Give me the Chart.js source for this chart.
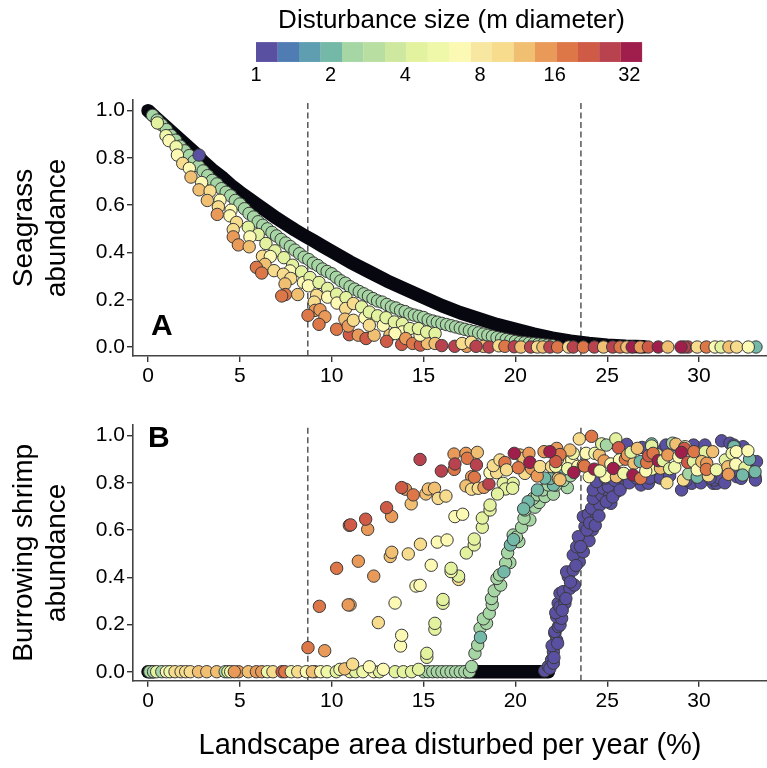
<!DOCTYPE html>
<html>
<head>
<meta charset="utf-8">
<script src="https://cdn.jsdelivr.net/npm/chart.js@4"></script>
<style>
  html, body { margin: 0; padding: 0; background: #fff; }
  #page { position: relative; width: 767px; height: 768px; overflow: hidden; }
  canvas { position: absolute; }
  .letra { position: absolute; font: bold 30px "Liberation Sans", Arial, sans-serif; color: #000; }
</style>
</head>
<body>
<div id="page">
  <canvas id="grafico-escala" width="631" height="90" style="left:136px;top:0"></canvas>
  <canvas id="grafico-a" width="767" height="300" style="left:0;top:90px"></canvas>
  <canvas id="grafico-b" width="767" height="353" style="left:0;top:415px"></canvas>
  <div class="letra" style="left:151px;top:308px">A</div>
  <div class="letra" style="left:148px;top:420px">B</div>
</div>
<script>
// disturbance size classes (m diameter)
const P = 1, T = 2, G = 2.4, YG = 4.4, Y = 5.4, PL = 6.6, YO = 9.9, LO = 12, O = 14.7, DO = 18, R = 22, R2 = 27, C = 32;

const colorbarColors = ['#5a50a1', '#4f7db3', '#5f9db0', '#74b8a8', '#a6d6a4', '#b9dea2', '#cfe89f', '#e3f29f', '#eff7a8',
  '#fbf9b3', '#f8e7a0', '#f6dc8c', '#f0bf72', '#e99a58', '#de7748', '#cf5a46', '#b9424f', '#a01e4c'];
const colorbarMax = 5.17;
const colorbarTicks = [0, 1, 2, 3, 4, 5];
const colorbarLabels = ['1', '2', '4', '8', '16', '32'];

const xTickValues = [0, 5, 10, 15, 20, 25, 30];
const yTickValues = [0, 0.2, 0.4, 0.6, 0.8, 1];
const dashedX = [8.7, 23.57];

// panel A, the black band (smallest disturbances)
const seagrassBlackX = [0, 0.5, 1, 1.5, 2, 2.5, 3, 3.5, 4, 4.5, 5, 5.5, 6, 6.5, 7, 7.5, 8, 8.5, 9, 9.5, 10, 11, 12, 13, 14, 15, 16, 17, 18, 19, 20, 21, 22, 23, 24, 25, 26, 27];
const seagrassBlackY = [1, 0.965, 0.93, 0.895, 0.86, 0.825, 0.785, 0.75, 0.72, 0.685, 0.655, 0.627, 0.6, 0.572, 0.545, 0.52, 0.495, 0.472, 0.45, 0.427, 0.405, 0.36, 0.32, 0.28, 0.245, 0.21, 0.175, 0.145, 0.12, 0.095, 0.075, 0.055, 0.038, 0.025, 0.015, 0.008, 0.003, 0.001];

// panel A, the green curve
const seagrassGreenX = [0.25, 0.5, 0.75, 1, 1.25, 1.5, 1.75, 2, 2.25, 2.5, 2.75, 3, 3.25, 3.5, 3.75, 4, 4.25, 4.5, 4.75, 5, 5.25, 5.5, 5.75, 6, 6.25, 6.5, 6.75, 7, 7.25, 7.5, 7.75, 8, 8.25, 8.5, 8.75, 9, 9.25, 9.5, 9.75, 10, 10.25, 10.5, 10.75, 11, 11.25, 11.5, 11.75, 12, 12.25, 12.5, 12.75, 13, 13.25, 13.5, 13.75, 14, 14.25, 14.5, 14.75, 15, 15.25, 15.5, 15.75, 16, 16.25, 16.5, 16.75, 17, 17.25, 17.5, 17.75, 18, 18.25, 18.5, 18.75, 19, 19.25, 19.5, 19.75, 20, 20.25, 20.5, 20.75, 21, 21.25, 21.5, 21.75, 22];
const seagrassGreenY = [0.98, 0.96, 0.94, 0.92, 0.895, 0.875, 0.85, 0.83, 0.81, 0.785, 0.765, 0.745, 0.725, 0.705, 0.69, 0.67, 0.655, 0.64, 0.62, 0.605, 0.585, 0.565, 0.55, 0.53, 0.515, 0.5, 0.485, 0.47, 0.455, 0.44, 0.425, 0.41, 0.395, 0.38, 0.37, 0.355, 0.345, 0.33, 0.32, 0.31, 0.295, 0.28, 0.27, 0.255, 0.245, 0.235, 0.225, 0.215, 0.205, 0.195, 0.19, 0.18, 0.17, 0.165, 0.155, 0.15, 0.14, 0.135, 0.13, 0.125, 0.115, 0.11, 0.105, 0.1, 0.095, 0.09, 0.085, 0.08, 0.075, 0.07, 0.065, 0.06, 0.055, 0.05, 0.045, 0.04, 0.036, 0.032, 0.028, 0.024, 0.02, 0.018, 0.016, 0.014, 0.012, 0.01, 0.008, 0.006];

// panel A, the scattered dots: [x, y, size]
const seagrassDots = [
  [2.78, 0.812, P], [0.51, 0.948, YG], [0.98, 0.894, Y], [1.14, 0.873, PL], [1.53, 0.847, Y], [1.6, 0.812, PL], [1.89, 0.777, YO],
  [2.25, 0.756, PL], [2.34, 0.719, LO], [2.92, 0.696, PL], [2.78, 0.665, LO], [3.38, 0.66, YO], [3.23, 0.62, LO], [3.92, 0.621, PL],
  [3.83, 0.593, YO], [3.77, 0.561, O], [4.52, 0.579, PL], [4.46, 0.555, PL], [4.82, 0.527, YO], [4.64, 0.497, YO], [4.64, 0.466, O],
  [4.92, 0.432, O], [5.46, 0.507, YG], [6, 0.476, YG], [5.55, 0.466, PL], [5.51, 0.424, LO], [6.42, 0.438, YG], [6.91, 0.407, YG],
  [6.23, 0.384, YO], [6.66, 0.383, PL], [7.4, 0.378, YG], [6.37, 0.35, LO], [5.9, 0.337, DO], [6.19, 0.313, DO], [6.86, 0.323, YO],
  [7.87, 0.346, YG], [7.73, 0.322, PL], [8.36, 0.318, YG], [7.37, 0.308, YO], [7.77, 0.29, YO], [8.46, 0.273, PL], [8.82, 0.294, YG],
  [8.73, 0.259, PL], [9.31, 0.273, YG], [7.46, 0.267, LO], [7.48, 0.222, DO], [7.28, 0.216, DO], [8.15, 0.222, LO], [9.18, 0.219, YO],
  [9.05, 0.19, YO], [9.78, 0.248, YG], [9.78, 0.211, PL], [10.27, 0.224, YG], [10.29, 0.186, PL], [10.78, 0.209, YG], [10.76, 0.163, YO],
  [9.09, 0.155, O], [9.36, 0.158, O], [9.63, 0.128, O], [8.71, 0.134, DO], [9.31, 0.096, DO], [10.27, 0.075, DO], [10.96, 0.052, R],
  [10.72, 0.118, LO], [10.9, 0.089, O], [11.18, 0.184, YO], [11.63, 0.17, YG], [11.18, 0.113, YO], [11.45, 0.05, O], [11.87, 0.036, R],
  [12.31, 0.05, LO], [11.81, 0.124, PL], [12.05, 0.148, YG], [12.05, 0.092, YO], [12.5, 0.132, YG], [12.81, 0.092, PL], [12.96, 0.124, YG],
  [13.41, 0.106, YG], [13.85, 0.099, YG], [13.86, 0.064, PL], [14.26, 0.078, YG], [13.17, 0.05, LO], [13.45, 0.057, PL], [12.99, 0.024, R],
  [13.81, 0.011, R], [14.03, 0.036, O], [14.41, 0.015, DO], [14.83, 0.008, R], [15.21, 0.015, LO], [14.81, 0.05, PL], [14.72, 0.078, YG],
  [15.17, 0.064, YG], [15.63, 0.057, YG], [15.63, 0.015, LO], [15.99, 0.006, R2], [16.7, 0.003, R2], [17.35, 0.003, O], [17.1, 0.015, YO],
  [17.6, 0.02, YO], [18.26, 0.003, LO], [17.86, 0.003, R2], [18.57, 0, R2], [19.1, 0.005, YO], [19.43, 0.003, DO], [19.94, 0.001, R2],
  [20.3, 0, LO], [20.83, 0, R2], [21.2, 0, YO], [21.5, 0, LO], [21.88, 0, R2], [22.3, 0, DO], [22.9, 0, YO], [23.15, 0, R2], [23.7, 0, DO],
  [24.3, 0, R2], [24.8, 0, LO], [25.3, 0, R2], [25.7, 0, DO], [26.07, 0, LO], [26.36, 0, C], [26.8, 0, O], [27.24, 0, R], [27.78, 0, C],
  [28.3, 0, LO], [29.4, 0, R2], [29.2, 0, R2], [29.02, 0, C], [29.9, 0, YO], [30.4, 0, DO], [30.87, 0, PL], [31.2, 0, YG], [31.63, 0, LO],
  [33.1, 0, T], [32.05, 0, YO], [32.68, 0, PL]
];

// panel B, black stretches on the zero line
const shrimpBlackX = [0, 0.3];
const shrimpBlackY = [0, 0];
const shrimpBlack2X = [17.3, 18, 19, 20, 21, 21.8];
const shrimpBlack2Y = [0, 0, 0, 0, 0, 0];

// panel B, purple rise and the purple dots under the plateau
const shrimpPurpleX = [21.6, 21.79, 21.88, 21.97, 22.07, 22.07, 22.15, 22.25, 22.15, 22.34, 22.43, 22.25, 22.52, 22.2, 22.33, 22.43, 22.7, 22.43, 22.6, 22.97, 23.21, 22.88, 22.79, 23.15, 23.48, 23.15, 23.7, 23.34, 23.61, 24.01, 23.43, 23.79, 24.19, 23.7, 23.97, 24.42, 24.15, 24.6, 24.24, 25.2, 24.7, 24.24, 24.79, 25.15, 25.51, 25.06, 25.79, 25.97, 24.42, 24.9, 25.4, 26.06, 25.62, 26.4, 26.84, 27.24, 27.69, 26.9, 28.05, 28.6, 29.05, 29.6, 29.7, 29.9, 30.32, 30.4, 30.77, 30.96, 30.84, 31.23, 31.5, 31.68, 32.05, 32.4, 32.3, 33.05, 33.13, 33.07, 28.2, 27.3, 31.1, 31.9, 22.0, 22.1, 22.3, 22.55, 22.75, 23.0, 23.3, 23.55, 23.9, 24.05, 24.35, 24.55, 24.95, 25.3, 25.7, 26.2, 26.6, 27.9, 28.4, 29.3, 30.1, 30.6, 31.4, 32.8];
const shrimpPurpleY = [0.004, 0.022, 0.015, 0.05, 0.036, 0.085, 0.163, 0.134, 0.17, 0.191, 0.198, 0.233, 0.226, 0.25, 0.29, 0.275, 0.29, 0.332, 0.339, 0.353, 0.367, 0.403, 0.423, 0.431, 0.466, 0.494, 0.508, 0.529, 0.565, 0.555, 0.572, 0.615, 0.601, 0.657, 0.667, 0.664, 0.692, 0.706, 0.734, 0.713, 0.749, 0.77, 0.777, 0.749, 0.763, 0.784, 0.791, 0.805, 0.805, 0.82, 0.81, 0.963, 0.83, 0.82, 0.791, 0.798, 0.826, 0.95, 0.94, 0.96, 0.77, 0.798, 0.96, 0.826, 0.96, 0.826, 0.798, 0.798, 0.812, 0.978, 0.833, 0.968, 0.826, 0.953, 0.819, 0.826, 0.89, 0.812, 0.96, 0.82, 0.82, 0.96, 0.11, 0.06, 0.12, 0.26, 0.31, 0.38, 0.45, 0.53, 0.6, 0.63, 0.62, 0.66, 0.72, 0.74, 0.77, 0.8, 0.82, 0.82, 0.83, 0.81, 0.8, 0.82, 0.8, 0.85];

// panel B, green row on the zero line and green rise
const shrimpGreenX = [15, 15.25, 15.5, 15.75, 16, 16.25, 16.5, 16.75, 17, 17.25, 17.5, 17.62, 17.8, 17.95, 18.08, 18.43, 18.26, 18.58, 18.74, 18.7, 18.85, 19.2, 19, 19.14, 19.7, 19.47, 19.58, 20.19, 19.88, 20.06, 20.34, 20.79, 20.47, 20.52, 21.07, 21.29, 20.97, 21.2, 21.61, 21.5, 22.07, 21.79, 22.83, 22.2, 22.6, 23];
const shrimpGreenY = [0, 0, 0, 0, 0, 0, 0, 0, 0, 0, 0, 0.022, 0.078, 0.113, 0.184, 0.205, 0.224, 0.248, 0.285, 0.31, 0.343, 0.367, 0.395, 0.41, 0.462, 0.46, 0.504, 0.551, 0.579, 0.57, 0.612, 0.643, 0.65, 0.685, 0.697, 0.717, 0.734, 0.749, 0.742, 0.77, 0.752, 0.791, 0.78, 0.79, 0.81, 0.83];
const shrimpTealX = [18.1, 19.38, 19.73, 19.9, 20.7, 20.45, 22.07, 21.9, 21.2, 22.4, 21.6];
const shrimpTealY = [0.146, 0.423, 0.537, 0.56, 0.72, 0.69, 0.791, 0.819, 0.77, 0.84, 0.82];

// panel B, scattered dots: [x, y, size]
const shrimpDots = [
  [0.1, 0, G], [0.3, 0, G], [0.47, 0, YG], [0.75, 0, G], [1, 0, PL], [1.2, 0, Y], [1.47, 0, YO], [1.8, 0, YO], [2.05, 0, YO], [2.3, 0, YO], [2.75, 0, LO],
  [3.2, 0, LO], [3.74, 0, LO], [4.2, 0, G], [4.35, 0, YG], [4.5, 0, Y], [4.93, 0, O], [4.7, 0, O], [5.46, 0, LO], [5.9, 0, O], [6.19, 0, O],
  [6.5, 0, Y], [6.8, 0, YO], [7.3, 0, R], [7.45, 0, DO], [7.8, 0, Y], [8.15, 0, YO], [8.62, 0, PL], [9.09, 0, O], [8.95, 0, LO], [9.4, 0, PL], [9.75, 0, Y], [10.25, 0, YG],
  [10.45, 0.01, Y], [11, 0, Y], [11.3, 0, YG], [11.7, 0, Y], [12.3, 0, PL], [12.6, 0, YG], [13.45, 0, YG], [13.9, 0, YG], [14.35, 0, YG],
  [10.71, 0.012, LO], [11.14, 0.032, YO], [12.05, 0.021, PL], [12.81, 0.01, PL], [14.73, 0.01, YG], [15.18, 0.061, YG], [15.18, 0.078, YG],
  [13.75, 0.109, PL], [13.81, 0.154, PL], [15.62, 0.18, YG], [15.62, 0.205, YG], [16.06, 0.29, YG], [16.06, 0.306, YG], [14.59, 0.363, PL],
  [14.81, 0.366, PL], [16.91, 0.391, YO], [16.91, 0.405, YG], [16.5, 0.424, Y], [16.5, 0.438, YG], [15.42, 0.451, PL], [15.75, 0.549, PL],
  [16.28, 0.558, PL], [17.33, 0.503, YG], [17.76, 0.537, YG], [17.76, 0.562, YG], [18.2, 0.612, YG], [18.2, 0.651, YG], [18.62, 0.685, YG],
  [18.62, 0.706, YG], [16.71, 0.657, PL], [17.13, 0.667, PL], [13.45, 0.291, PL], [12.54, 0.208, YO], [11, 0.283, LO], [9.62, 0.089, O],
  [10.9, 0.283, O], [12.29, 0.405, O], [11.45, 0.468, O], [13.19, 0.488, LO], [13.27, 0.506, LO], [14.17, 0.499, YO], [14.83, 0.54, YO],
  [15.13, 0.753, LO], [15.26, 0.774, LO], [15.6, 0.777, LO], [15.8, 0.734, YO], [16.22, 0.744, YO], [14.33, 0.711, LO], [13.26, 0.658, O],
  [11.96, 0.603, O], [8.71, 0.102, DO], [9.33, 0.277, DO], [10.27, 0.438, DO], [10.96, 0.62, DO], [11.03, 0.622, R], [11.85, 0.646, R],
  [12.99, 0.695, R], [14.02, 0.773, O], [14.44, 0.749, DO], [13.81, 0.78, R], [14.81, 0.899, R2], [15.97, 0.85, R2], [16.66, 0.922, O],
  [17.31, 0.925, O], [17.38, 0.904, DO], [17.93, 0.929, LO], [16.67, 0.857, DO], [16.71, 0.88, R2], [17.88, 0.876, R2], [17.62, 0.826, O],
  [17.77, 0.823, DO], [17.31, 0.787, LO], [17.62, 0.773, YO], [17.98, 0.777, YO], [18.29, 0.781, O], [18.56, 0.795, R2], [18.62, 0.843, PL],
  [18.98, 0.843, YO], [18.8, 0.873, YO], [19.16, 0.897, YO], [19.43, 0.886, DO], [19.52, 0.855, YO], [19.34, 0.798, YG], [19.88, 0.798, YG],
  [19.47, 0.774, YG], [19.85, 0.777, YG], [19.03, 0.753, YG], [20.52, 0.84, YO], [20.25, 0.918, LO], [20.46, 0.904, LO], [19.94, 0.925, C],
  [20.74, 0.925, O], [20.16, 0.864, DO], [20.88, 0.861, O], [20.79, 0.887, C], [21.19, 0.829, O], [21.34, 0.869, YO], [21.56, 0.932, O],
  [21.97, 0.869, YO], [22.34, 0.819, LO], [22.6, 0.89, PL], [22.3, 0.9, PL], [23.07, 0.897, PL], [23.15, 0.925, Y], [22.43, 0.813, LO],
  [22.2, 0.87, Y], [22.25, 0.946, O], [22.97, 0.939, LO], [22.43, 0.92, DO], [22.2, 0.89, R], [21.88, 0.932, C], [22.85, 0.86, Y], [23.4, 0.87, PL], [23.7, 0.875, O], [24.02, 0.826, PL],
  [24.91, 0.826, PL], [23.85, 0.925, PL], [24.33, 0.925, Y], [24.57, 0.918, LO], [24.83, 0.893, O], [23.76, 0.871, DO], [23.18, 0.844, C],
  [24.3, 0.858, C], [23.48, 0.986, YO], [24.15, 0.997, DO], [24.7, 0.965, YG], [24.96, 0.96, G], [25.47, 0.986, YG], [25.62, 0.949, R],
  [25.2, 0.88, PL], [24.6, 0.85, Y], [25.67, 0.897, PL], [25.5, 0.847, O], [25.5, 0.826, LO], [25.33, 0.861, C], [25.99, 0.9, DO], [26.1, 0.918, O], [26.46, 0.883, LO],
  [25.9, 0.84, Y], [26.3, 0.93, YG], [26.64, 0.946, LO], [26.4, 0.833, C], [26.82, 0.819, DO], [26.8, 0.89, T], [27.42, 0.858, Y], [27.42, 0.965, T], [27.42, 0.956, YG],
  [27.1, 0.85, PL], [27.7, 0.92, YG], [27.15, 0.886, DO], [27.26, 0.915, R], [27.5, 0.925, DO], [27.9, 0.862, LO], [27.78, 0.894, C], [28.05, 0.894, YG], [28.3, 0.918, O],
  [28.4, 0.86, YG], [28.25, 0.8, YO], [28.68, 0.866, Y], [28.56, 0.968, G], [28.74, 0.964, LO], [28.9, 0.91, PL], [29.24, 0.953, PL], [29.2, 0.946, R], [29.04, 0.929, C],
  [29.15, 0.812, YO], [29.44, 0.838, G], [29.38, 0.887, R], [29.9, 0.824, T], [29.7, 0.89, YG], [29.9, 0.855, PL], [29.72, 0.932, DO], [30.34, 0.932, YG],
  [30.15, 0.89, LO], [30.42, 0.883, O], [30.51, 0.83, YO], [30.4, 0.857, DO], [30.74, 0.932, LO], [30.94, 0.855, Y], [31.43, 0.897, YG],
  [31.57, 0.868, LO], [31.6, 0.836, O], [31.9, 0.953, T], [31.8, 0.925, Y], [32.03, 0.932, PL], [32, 0.879, PL], [32.5, 0.864, YG],
  [32.37, 0.833, T], [32.75, 0.9, T], [33.05, 0.847, T], [32.66, 0.936, PL]
];

function sizeColor(size) {
  let band = Math.floor(Math.log2(size) / colorbarMax * colorbarColors.length);
  return colorbarColors[Math.min(band, colorbarColors.length - 1)];
}

function toPoints(xs, ys) {
  return xs.map((x, i) => ({ x: x, y: ys[i] }));
}

function dotsDataset(points, colors) {
  return {
    data: points,
    showLine: false,
    pointRadius: 6.2,
    pointBorderWidth: 1,
    pointBorderColor: '#3a3a3a',
    pointBackgroundColor: colors
  };
}

function blackDataset(points) {
  return {
    data: points,
    showLine: true,
    borderColor: '#07070f',
    borderWidth: 13.5,
    borderCapStyle: 'round',
    borderJoinStyle: 'round',
    pointRadius: 0
  };
}

function dashedDatasets() {
  return dashedX.map(x => ({
    data: [{ x: x, y: -0.038 }, { x: x, y: 1.038 }],
    showLine: true,
    borderColor: '#4a4a4a',
    borderWidth: 1.4,
    borderDash: [6, 3.5],
    pointRadius: 0
  }));
}

function criarPainel(id, datasets, yTitle, xTitle, xHeight) {
  new Chart(document.getElementById(id), {
    type: 'scatter',
    data: { datasets: datasets.map((d, i) => Object.assign(d, { order: -i })) },
    options: {
      responsive: false,
      animation: false,
      layout: { autoPadding: false, padding: { top: 10 } },
      plugins: { legend: { display: false }, tooltip: { enabled: false } },
      scales: {
        x: {
          type: 'linear',
          min: -0.817,
          max: 33.7,
          afterBuildTicks: s => { s.ticks = xTickValues.map(v => ({ value: v })); },
          afterFit: s => { s.height = xHeight; s.paddingLeft = 0; s.paddingRight = 0; },
          grid: { drawOnChartArea: false, drawTicks: true, tickLength: 6, color: '#333', lineWidth: 1.4 },
          border: { display: true, color: '#444', width: 1.6 },
          ticks: { color: '#000', font: { family: 'Liberation Sans', size: 21 }, padding: 2, maxRotation: 0, callback: v => String(v) },
          title: xTitle ? {
            display: true, text: xTitle, color: '#000',
            font: { family: 'Liberation Sans', size: 29 }, padding: { top: 0, bottom: 5 }
          } : { display: false }
        },
        y: {
          type: 'linear',
          min: -0.038,
          max: 1.045,
          afterBuildTicks: s => { s.ticks = yTickValues.map(v => ({ value: v })); },
          afterFit: s => { s.width = 133; s.paddingTop = 0; s.paddingBottom = 0; },
          grid: { drawOnChartArea: false, drawTicks: true, tickLength: 6, color: '#333', lineWidth: 1.4 },
          border: { display: true, color: '#444', width: 1.6 },
          ticks: { color: '#000', font: { family: 'Liberation Sans', size: 21 }, padding: 2, callback: v => v.toFixed(1) },
          title: {
            display: true, text: yTitle, color: '#000',
            font: { family: 'Liberation Sans', size: 28 }, padding: { top: 7, bottom: 0 }
          }
        }
      }
    }
  });
}

function criarEscala() {
  new Chart(document.getElementById('grafico-escala'), {
    type: 'bar',
    data: {
      labels: ['size'],
      datasets: colorbarColors.map(c => ({
        data: [colorbarMax / colorbarColors.length],
        backgroundColor: c,
        borderColor: c,
        borderWidth: 0.5,
        barPercentage: 1,
        categoryPercentage: 1
      }))
    },
    options: {
      indexAxis: 'y',
      responsive: false,
      animation: false,
      layout: { autoPadding: false },
      plugins: {
        legend: { display: false },
        tooltip: { enabled: false },
        title: {
          display: true, text: 'Disturbance size (m diameter)', color: '#000',
          font: { family: 'Liberation Sans', size: 26, weight: 'normal' }, padding: { top: 5, bottom: 6 }
        }
      },
      scales: {
        x: {
          type: 'linear',
          stacked: true,
          min: -1.607,
          max: 6.844,
          afterBuildTicks: s => { s.ticks = colorbarTicks.map(v => ({ value: v })); },
          afterFit: s => { s.height = 28; s.paddingLeft = 0; s.paddingRight = 0; },
          grid: { display: false, drawTicks: false },
          border: { display: false },
          ticks: { color: '#000', font: { family: 'Liberation Sans', size: 20 }, padding: 1, maxRotation: 0, callback: v => colorbarLabels[v] }
        },
        y: { stacked: true, display: false }
      }
    }
  });
}

criarEscala();

criarPainel('grafico-a', [
  ...dashedDatasets(),
  blackDataset(toPoints(seagrassBlackX, seagrassBlackY)),
  dotsDataset(toPoints(seagrassGreenX, seagrassGreenY), sizeColor(G)),
  dotsDataset(seagrassDots.map(d => ({ x: d[0], y: d[1] })), seagrassDots.map(d => sizeColor(d[2])))
], ['Seagrass', 'abundance'], null, 34);

criarPainel('grafico-b', [
  ...dashedDatasets(),
  blackDataset(toPoints(shrimpBlackX, shrimpBlackY)),
  blackDataset(toPoints(shrimpBlack2X, shrimpBlack2Y)),
  dotsDataset(toPoints(shrimpPurpleX, shrimpPurpleY), sizeColor(P)),
  dotsDataset(toPoints(shrimpGreenX, shrimpGreenY), sizeColor(G)),
  dotsDataset(toPoints(shrimpTealX, shrimpTealY), sizeColor(T)),
  dotsDataset(shrimpDots.map(d => ({ x: d[0], y: d[1] })), shrimpDots.map(d => sizeColor(d[2])))
], ['Burrowing shrimp', 'abundance'], 'Landscape area disturbed per year (%)', 87.3);
</script>
</body>
</html>
